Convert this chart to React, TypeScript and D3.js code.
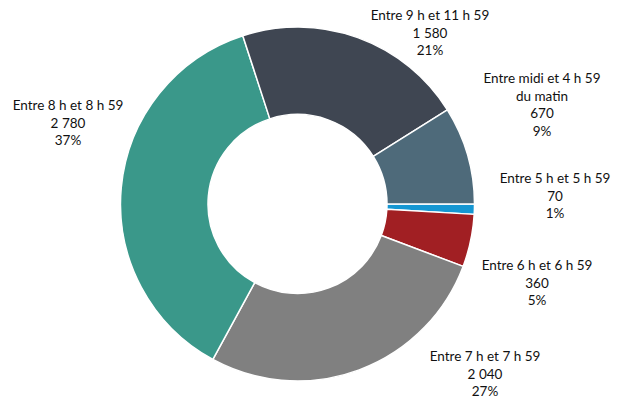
import { useRef, useEffect } from "react";
import * as d3 from "d3";

// categories in clockwise order, starting at 3 o'clock
const categories = [
  "Entre 5 h et 5 h 59",
  "Entre 6 h et 6 h 59",
  "Entre 7 h et 7 h 59",
  "Entre 8 h et 8 h 59",
  "Entre 9 h et 11 h 59",
  "Entre midi et 4 h 59|du matin",
];
const values = [70, 360, 2040, 2780, 1580, 670];
const percents = ["1%", "5%", "27%", "37%", "21%", "9%"];
const valueLabels = ["70", "360", "2 040", "2 780", "1 580", "670"];
const colors = ["#1597d3", "#a11f23", "#808080", "#3a988a", "#3f4652", "#4e6a7a"];

// label block centres (first line)
const labelPos: [number, number][] = [
  [555, 178],
  [537, 265],
  [485, 356],
  [68, 105],
  [430, 15],
  [542, 78],
];

export default function App() {
  const ref = useRef<SVGSVGElement>(null);

  useEffect(() => {
    const svg = d3.select(ref.current);
    svg.selectAll("*").remove();

    const cx = 297.5;
    const cy = 204;
    const outer = 177;
    const inner = 89.5;

    const pie = d3
      .pie<number>()
      .sort(null)
      .startAngle(Math.PI / 2)
      .endAngle(Math.PI / 2 + 2 * Math.PI);
    const arc = d3.arc<d3.PieArcDatum<number>>().innerRadius(inner).outerRadius(outer);

    const g = svg.append("g").attr("transform", `translate(${cx},${cy})`);
    g.selectAll("path")
      .data(pie(values))
      .join("path")
      .attr("d", arc)
      .attr("fill", (d, i) => colors[i])
      .attr("stroke", "#fff")
      .attr("stroke-width", 1.5)
      .attr("stroke-linejoin", "round");

    // labels
    categories.forEach((c, i) => {
      const lines = [...c.split("|"), valueLabels[i], percents[i]];
      const t = svg
        .append("text")
        .attr("text-anchor", "middle")
        .attr("font-family", "Lato, 'Open Sans', sans-serif")
        .attr("font-size", 13.5)
        .attr("fill", "#111");
      lines.forEach((l, j) => {
        t.append("tspan")
          .attr("x", labelPos[i][0])
          .attr("y", labelPos[i][1] + j * 17.8)
          .attr("dy", "0.35em")
          .text(l);
      });
    });
  }, []);

  return (
    <svg
      ref={ref}
      width={624}
      height={400}
      style={{ position: "absolute", left: 0, top: 0, background: "#fff" }}
    />
  );
}
